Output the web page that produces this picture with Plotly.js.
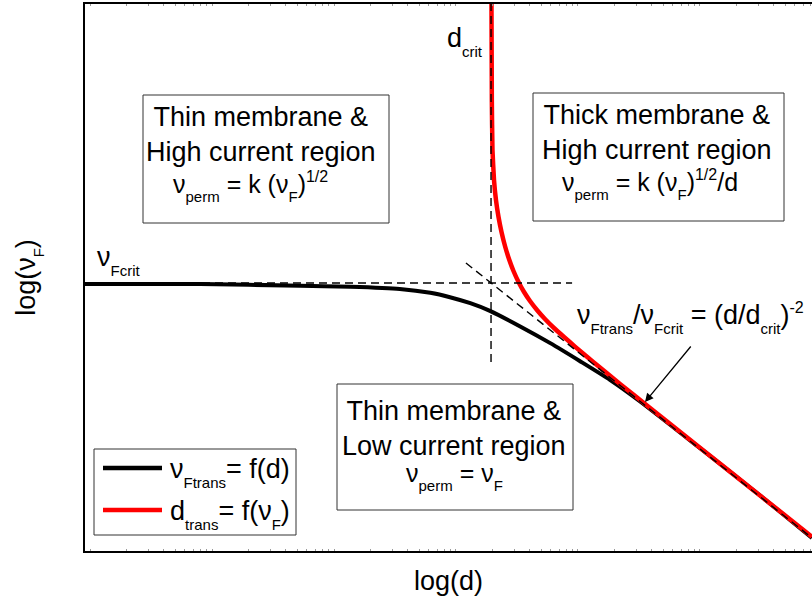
<!DOCTYPE html>
<html><head><meta charset="utf-8">
<script src="https://cdn.plot.ly/plotly-3.0.1.min.js"></script>
<style>html,body{margin:0;padding:0;background:#fff}#chart{width:812px;height:602px}</style>
</head><body><div id="chart"></div>
<script>
// ---- data (log units) ----
const logD_black = [0, 1.58, 2.96, 3.65, 4.33, 4.75, 5.02, 5.30, 5.57, 5.98, 6.40, 6.81, 7.22, 7.63, 8.46, 9.29, 10.0];
const logNuFtrans = [4.88, 4.88, 4.85, 4.83, 4.79, 4.72, 4.64, 4.53, 4.39, 4.11, 3.80, 3.47, 3.13, 2.74, 1.88, 1.01, 0.24];
const logDtrans = [5.591, 5.596, 5.605, 5.626, 5.653, 5.688, 5.729, 5.777, 5.832, 5.894, 5.963, 6.039, 6.121, 6.217, 6.327, 6.451, 6.589, 6.740, 6.905, 7.084, 7.359, 7.730, 8.459, 9.285, 10.0];
const logNuF_red = [10.0, 8.245, 7.331, 6.782, 6.417, 6.106, 5.832, 5.576, 5.338, 5.119, 4.918, 4.735, 4.570, 4.406, 4.241, 4.077, 3.913, 3.737, 3.550, 3.353, 3.055, 2.660, 1.887, 1.015, 0.260];
const dCrit = 5.585;
const nuFcrit = 4.90;
const vGuideY = [3.455, 10];
const hGuideX = [0, 6.70];
const slopeGuideX = [5.24, 10.0];
const slopeGuideY = [5.265, 0.238];
// log-decade tick marks along the d axis (no labels)
const decadeWidth = 1.678;
const decadeRef = 8.459;

const FONT = 'Liberation Sans, Arial, sans-serif';
const L = 85, R = 812, T = 4, B = 551;
const xp = px => (px - L) / (R - L);
const yp = py => (B - py) / (B - T);
const sb = t => '<sub><span style="font-size:15px;baseline-shift:-4px">' + t + '</span></sub>';
const sp = t => '<sup><span style="font-size:16px">' + t + '</span></sup>';
const eq = t => '<span style="font-size:25px">' + t + '</span>';

const tickVals = [];
for (let i = -6; i <= 1; i++) {
  const b = decadeRef + i * decadeWidth;
  for (let k = 1; k <= 9; k++) {
    const v = b + Math.log10(k) * decadeWidth;
    if (v > 0.05 && v < 9.98) tickVals.push(v);
  }
}

const dashStyle = {color: 'black', width: 1.4, dash: '8px,5px'};
const traces = [
  {x: logD_black, y: logNuFtrans, mode: 'lines', name: 'ν_Ftrans = f(d)',
   line: {color: 'black', width: 4, shape: 'spline', smoothing: 0.6}},
  {x: logDtrans, y: logNuF_red, mode: 'lines', name: 'd_trans = f(ν_F)',
   line: {color: '#ff0000', width: 4.5, shape: 'spline', smoothing: 0.4}},
  {x: [dCrit, dCrit], y: vGuideY, mode: 'lines', line: dashStyle, hoverinfo: 'skip'},
  {x: hGuideX, y: [nuFcrit, nuFcrit], mode: 'lines', line: dashStyle, hoverinfo: 'skip'},
  {x: slopeGuideX, y: slopeGuideY, mode: 'lines', line: dashStyle, hoverinfo: 'skip'}
];

const txt = {xref: 'paper', yref: 'paper', showarrow: false, font: {family: FONT, size: 27, color: 'black'}};
const annotations = [
  Object.assign({}, txt, {x: xp(261), y: yp(134.5), xanchor: 'center', yanchor: 'middle', align: 'center',
    text: 'Thin membrane &<br>High current region'}),
  Object.assign({}, txt, {x: xp(250), y: yp(187), xanchor: 'center', yanchor: 'middle',
    text: eq('ν' + sb('perm') + ' = k (ν' + sb('F') + ')' + sp('1/2'))}),
  Object.assign({}, txt, {x: xp(657), y: yp(132.5), xanchor: 'center', yanchor: 'middle', align: 'center',
    text: 'Thick membrane &<br>High current region'}),
  Object.assign({}, txt, {x: xp(650), y: yp(185), xanchor: 'center', yanchor: 'middle',
    text: eq('ν' + sb('perm') + ' = k (ν' + sb('F') + ')' + sp('1/2') + '/d')}),
  Object.assign({}, txt, {x: xp(454), y: yp(428), xanchor: 'center', yanchor: 'middle', align: 'center',
    text: 'Thin membrane &<br>Low current region'}),
  Object.assign({}, txt, {x: xp(455), y: yp(476), xanchor: 'center', yanchor: 'middle',
    text: eq('ν' + sb('perm') + ' = ν' + sb('F'))}),
  Object.assign({}, txt, {x: xp(95), y: yp(260), xanchor: 'left', yanchor: 'middle', text: 'ν' + sb('Fcrit')}),
  Object.assign({}, txt, {x: xp(445), y: yp(42), xanchor: 'left', yanchor: 'middle', text: 'd' + sb('crit')}),
  Object.assign({}, txt, {x: xp(690), y: yp(318), xanchor: 'center', yanchor: 'middle',
    text: 'ν' + sb('Ftrans') + '/ν' + sb('Fcrit') + ' = (d/d' + sb('crit') + ')' + sp('-2')}),
  {xref: 'paper', yref: 'paper', x: xp(645), y: yp(402), text: '', showarrow: true,
    ax: 47, ay: -57, arrowhead: 2, arrowsize: 1.3, arrowwidth: 1.3, arrowcolor: 'black', standoff: 0},
  // legend texts
  Object.assign({}, txt, {x: xp(168), y: yp(472), xanchor: 'left', yanchor: 'middle', text: 'ν' + sb('Ftrans') + '= f(d)'}),
  Object.assign({}, txt, {x: xp(168), y: yp(514), xanchor: 'left', yanchor: 'middle', text: 'd' + sb('trans') + '= f(ν' + sb('F') + ')'})
];

const rect = (x0, x1, y0, y1) => ({type: 'rect', xref: 'paper', yref: 'paper',
  x0: xp(x0), x1: xp(x1), y0: yp(y1), y1: yp(y0), line: {color: '#333', width: 1}, fillcolor: 'rgba(0,0,0,0)', layer: 'above'});
const shapes = [
  rect(143, 389, 95, 223),
  rect(533, 784, 93, 221),
  rect(337, 573, 384, 510),
  Object.assign(rect(94, 296, 449, 535), {fillcolor: 'white'}),
  {type: 'line', xref: 'paper', yref: 'paper', x0: xp(103), x1: xp(162), y0: yp(468), y1: yp(468),
   line: {color: 'black', width: 4.5}},
  {type: 'line', xref: 'paper', yref: 'paper', x0: xp(103), x1: xp(162), y0: yp(510), y1: yp(510),
   line: {color: '#ff0000', width: 4.5}}
];

const layout = {
  width: 812, height: 602,
  margin: {l: L, r: 812 - R, t: T, b: 602 - B, pad: 0},
  paper_bgcolor: 'white', plot_bgcolor: 'white',
  font: {family: FONT, size: 27, color: 'black'},
  showlegend: false,
  xaxis: {range: [0, 10], showgrid: false, zeroline: false, showticklabels: false,
    tickmode: 'array', tickvals: tickVals, ticks: 'inside', ticklen: 2, tickwidth: 1, tickcolor: '#999',
    showline: true, linecolor: 'black', linewidth: 2, mirror: 'allticks', fixedrange: true,
    title: {text: 'log(d)', font: {family: FONT, size: 27}, standoff: 19}},
  yaxis: {range: [0, 10], showgrid: false, zeroline: false, showticklabels: false, ticks: '',
    showline: true, linecolor: 'black', linewidth: 2, mirror: false, fixedrange: true,
    title: {text: 'log(ν' + sb('F') + ')', font: {family: FONT, size: 27}, standoff: 40}},
  annotations: annotations,
  shapes: shapes
};

Plotly.newPlot('chart', traces, layout, {displayModeBar: false, staticPlot: true});
</script>
</body></html>
